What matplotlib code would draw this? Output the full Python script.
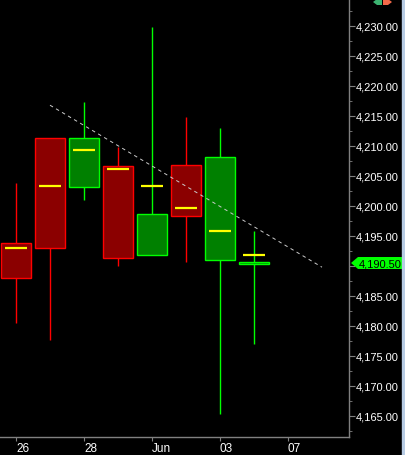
import matplotlib
matplotlib.use('Agg')
import matplotlib.pyplot as plt
from matplotlib.patches import Rectangle, Polygon

plt.rcParams['font.family'] = ['Liberation Sans', 'DejaVu Sans']

# candles, left to right
highs = [4203.8, 4211.3, 4217.3, 4209.8, 4229.8, 4214.8, 4213.0, 4195.8]
lows = [4180.5, 4177.7, 4201.0, 4190.0, 4191.8, 4190.7, 4165.3, 4177.0]
body_top = [4193.8, 4211.3, 4211.3, 4206.7, 4198.7, 4206.8, 4208.2, 4190.7]
body_bot = [4188.0, 4193.0, 4203.2, 4191.3, 4191.8, 4198.3, 4191.0, 4190.3]
marks = [4193.0, 4203.3, 4209.3, 4206.2, 4203.3, 4199.7, 4195.8, 4191.8]
up = [False, False, True, False, True, False, True, True]

trend_x = [1, 9]
trend_y = [4216.8, 4189.8]
last_price = 4190.5

x_ticks = [0, 2, 4, 6, 8]
x_labels = ['26', '28', 'Jun', '03', '07']
# 4,190 has no label of its own, the price tag sits there
y_ticks = [4165, 4170, 4175, 4180, 4185, 4190, 4195, 4200, 4205, 4210, 4215, 4220, 4225, 4230]
y_minor = [4162.5, 4167.5, 4172.5, 4177.5, 4182.5, 4187.5, 4192.5, 4197.5, 4202.5,
           4207.5, 4212.5, 4217.5, 4222.5, 4227.5, 4232.5]

W, H = 405, 456
fig = plt.figure(figsize=(W / 100, H / 100), dpi=100, facecolor='black')
ax = fig.add_axes([0, (H - 438) / H, 348.5 / W, 438 / H], facecolor='black')

for i in range(len(highs)):
    edge = '#00ff00' if up[i] else '#ff0000'
    fill = '#008000' if up[i] else '#8b0000'
    ax.plot([i, i], [lows[i], highs[i]], color=edge, lw=1, zorder=1, solid_capstyle='butt')
    ax.add_patch(Rectangle((i - 0.43, body_bot[i]), 0.86, body_top[i] - body_bot[i],
                           facecolor=fill, edgecolor=edge, lw=1, zorder=2))
    ax.plot([i - 0.33, i + 0.33], [marks[i], marks[i]], color='#ffff00', lw=1.6, zorder=3,
            solid_capstyle='butt')

ax.plot(trend_x, trend_y, color='#cccccc', lw=0.7, dashes=(3.6, 3.6), zorder=4)

ax.set_xlim(-16 / 34, (348.5 - 16) / 34)
ax.set_ylim(4230 - (438 - 27) / 6, 4230 + 27 / 6)

for s in ['left', 'top']:
    ax.spines[s].set_visible(False)
for s in ['right', 'bottom']:
    ax.spines[s].set_color('#808080')
    ax.spines[s].set_linewidth(1)

ax.yaxis.tick_right()
ax.set_xticks(x_ticks)
ax.set_xticklabels(x_labels, ha='left')
ax.set_yticks(y_ticks)
ax.set_yticklabels(['' if v == 4190 else f'{v:,.2f}' for v in y_ticks])
ax.set_yticks(y_minor, minor=True)
ax.tick_params(axis='x', colors='#808080', labelcolor='white', labelsize=8.5, length=3, pad=0.5)
ax.tick_params(axis='y', colors='#808080', labelcolor='white', labelsize=8, length=4, pad=1.5)
ax.tick_params(axis='y', which='minor', colors='#808080', length=2)

# last price tag, polygon in pixels at the height of the price
fig.canvas.draw()
tag_y = H - ax.transData.transform((0, last_price))[1]
tag = [(351, tag_y), (358, tag_y - 6), (402, tag_y - 6), (402, tag_y + 6), (358, tag_y + 6)]
fig.add_artist(Polygon([(px / W, 1 - py / H) for px, py in tag], transform=fig.transFigure,
                       color='#00ff00', lw=0))
fig.text(359 / W, 1 - (tag_y + 0.5) / H, f'{last_price:,.2f}', color='black', fontsize=8,
         va='center', ha='left')

# strip on the right edge and the two little arrows at the top
fig.add_artist(Rectangle((402 / W, 0), 3 / W, 1, transform=fig.transFigure, color='#b8cce4'))
fig.add_artist(Polygon([(373 / W, 1 - 3 / H), (377 / W, 1 - 0 / H), (382 / W, 1 - 0 / H),
                        (382 / W, 1 - 6 / H), (377 / W, 1 - 6 / H)],
                       transform=fig.transFigure, color='#3cb371', lw=0))
fig.add_artist(Polygon([(392 / W, 1 - 3 / H), (388 / W, 1 - 0 / H), (383 / W, 1 - 0 / H),
                        (383 / W, 1 - 6 / H), (388 / W, 1 - 6 / H)],
                       transform=fig.transFigure, color='#f4694a', lw=0))

fig.savefig('out.png', dpi=100, facecolor='black')
